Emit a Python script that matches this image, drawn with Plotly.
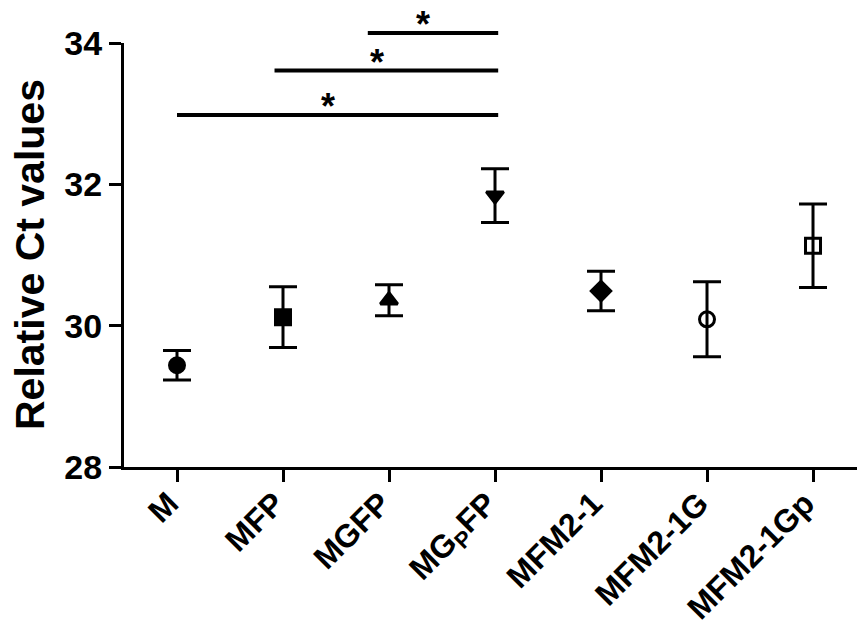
import plotly.graph_objects as go

categories = ["M", "MFP", "MGFP", "MG<sub>P</sub>FP", "MFM2-1", "MFM2-1G", "MFM2-1Gp"]
means = [29.44, 30.12, 30.36, 31.84, 30.49, 30.09, 31.13]
errors = [0.21, 0.43, 0.22, 0.38, 0.28, 0.53, 0.59]
symbols = ["circle", "square", "triangle-up", "triangle-down", "diamond", "circle-open", "square-open"]

# significance brackets: start index, end index, y level
sig_start = [0, 0.92, 1.8]
sig_end = [3.03, 3.03, 3.03]
sig_y = [32.98, 33.61, 34.14]
sig_text = ["*", "*", "*"]

y_ticks = [28, 30, 32, 34]
y_min, y_max = 28, 34

x_idx = list(range(len(categories)))

fig = go.Figure()
fig.add_trace(go.Scatter(
    x=x_idx, y=means, mode="markers",
    marker=dict(symbol=symbols, size=15, color="black", line=dict(color="black", width=3)),
    error_y=dict(type="data", array=errors, visible=True, thickness=3, width=14, color="black"),
    showlegend=False, cliponaxis=False, hoverinfo="skip",
))

def to_paper(v):
    return (v - y_min) / (y_max - y_min)

shapes = []
annotations = []
for x0, x1, yv, t in zip(sig_start, sig_end, sig_y, sig_text):
    shapes.append(dict(type="line", xref="x", yref="paper", x0=x0, x1=x1,
                       y0=to_paper(yv), y1=to_paper(yv), line=dict(color="black", width=4)))
    annotations.append(dict(xref="x", yref="paper", x=(x0 + x1) / 2 - 0.09, y=to_paper(yv + 0.12),
                            text=t, showarrow=False, xanchor="center", yanchor="middle",
                            font=dict(family="Liberation Sans", size=36, color="black", weight="bold")))

annotations.append(dict(xref="paper", yref="paper", x=-94 / 733, y=0.5, text="Relative Ct values",
                        textangle=-90, showarrow=False, xanchor="center", yanchor="middle",
                        font=dict(family="Liberation Sans", size=41, color="black", weight="bold")))

fig.update_layout(
    width=857, height=631,
    margin=dict(l=124, r=0, t=43, b=164, autoexpand=False),
    paper_bgcolor="white", plot_bgcolor="white",
    shapes=shapes, annotations=annotations,
    xaxis=dict(range=[-0.5, 6.415], tickvals=x_idx, ticktext=categories, tickangle=-45,
               showline=True, linewidth=3, linecolor="black", ticks="outside", ticklen=12,
               tickwidth=3, tickcolor="black", showgrid=False, zeroline=False, automargin=False,
               ticklabelstandoff=-10, ticklabelshift=-8,
               tickfont=dict(family="Liberation Sans", size=32, color="black", weight="bold")),
    yaxis=dict(range=[y_min, y_max], tickvals=y_ticks, showline=True, linewidth=3,
               linecolor="black", ticks="outside", ticklen=12, tickwidth=3, tickcolor="black",
               showgrid=False, zeroline=False, automargin=False,
               tickfont=dict(family="Liberation Sans", size=34, color="black", weight="bold")),
)

fig.write_html("out.html", config={"displayModeBar": False},
               post_script="document.body.style.margin='0';")
